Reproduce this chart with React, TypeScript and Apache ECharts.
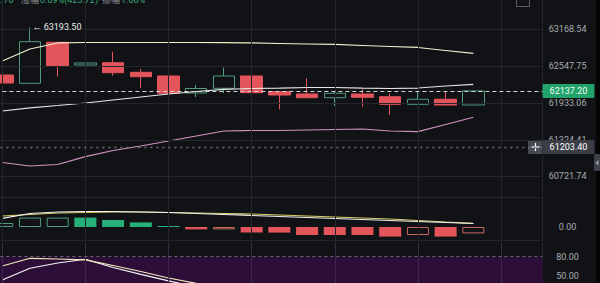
import React, { useEffect, useRef } from 'react';
import * as echarts from 'echarts';

// ---------- data ----------
const categories = ['10:00', '11:00', '12:00', '13:00', '14:00', '15:00', '16:00', '17:00', '18:00', '19:00',
  '20:00', '21:00', '22:00', '23:00', '00:00', '01:00', '02:00', '03:00', '04:00', '05:00'];

const opens = [62402.8, 62264.7, 62947.1, 62569.3, 62607.6, 62447.8, 62386.2, 62103.2, 62181.4, 62386.2,
  62124.9, 62086.6, 62025.0, 62086.6, 62041.6, 61915.1, 61998.4, 61903.5];
const closes = [62269.7, 62957.1, 62557.6, 62602.6, 62441.1, 62374.5, 62098.2, 62178.1, 62386.2, 62108.2,
  62069.9, 62025.0, 62098.2, 62031.6, 61915.1, 61998.4, 61903.5, 62137.2];
const lows = [62053.3, 62264.7, 62374.5, 62374.5, 62391.2, 62181.4, 62025.0, 62036.6, 62103.2, 62103.2,
  61831.9, 62020.0, 61886.8, 61875.2, 61737.0, 61915.1, 61903.5, 61903.5];
const highs = [62436.1, 63193.5, 62947.1, 62747.4, 62790.7, 62502.7, 62386.2, 62236.4, 62527.7, 62386.2,
  62124.9, 62347.9, 62136.5, 62164.8, 62098.2, 62124.9, 62136.5, 62137.2];

const bollUpper = [62636, 62836, 62936, 62944, 62944, 62944, 62944, 62944, 62941, 62936,
  62927, 62919, 62911, 62894, 62877, 62861, 62811, 62764];
const bollMid = [61804, 61854, 61895, 61937, 61987, 62037, 62087, 62128, 62162, 62178,
  62186, 62195, 62195, 62186, 62178, 62186, 62220, 62248];
const bollLower = [60946, 60888, 60913, 61043, 61146, 61221, 61304, 61388, 61471, 61479,
  61479, 61487, 61496, 61504, 61471, 61459, 61579, 61699];

const priceTicks = [63168.54, 62547.75, 61933.06, 61324.41, 60721.74];
const crossPrice = 61203.40;

const macdHist = [20, 47, 47, 47, 35, 23, 5, -12, -12, -28, -28, -40, -40, -40, -48, -40, -48, -32];
const macdHollow = [true, true, true, false, false, false, false, false, true, false,
  false, false, false, false, false, true, false, true];
const macdDif = [43.5, 67.5, 75, 77.5, 77.5, 75, 72.5, 67.5, 62.5, 57.5, 52.5, 47.5, 42.5, 37.5, 32.5, 27.5, 22.5, 17.5];
const macdDea = [55, 62.5, 70, 72.5, 75, 75, 72.5, 70, 67.5, 65, 60, 55, 50, 45, 40, 32.5, 25, 18.5];
const macdTicks = [0];

const rsiA = [65.5, 77.5, 76.4, 74.9, 66.3, 57, 46.9, 38.5, 33, 29, 26, 24, 23, 21, 20, 20, 21, 24];
const rsiB = [43.8, 62, 70.2, 76, 63.2, 52.4, 42.3, 33, 28, 25, 23, 21, 20, 19, 18, 18, 19, 22];
const rsiTicks = [80, 50];

// ---------- styles ----------
const BG = '#111215';
const GRID = '#24262b';
const LABEL = '#a9acb3';
const UP = '#4f9d7c';
const DOWN = '#e4545b';
const FONT = 'Roboto';

// chart div is shifted left by OX px so the first candle can sit at the page's left edge
const OX = 12;
const CW = 600 + OX;

const vIdx = categories.map((_, i) => i).filter((i) => i % 3 === 0 && i < 19);
const vLines = vIdx.map((i) => ({ xAxis: categories[i] }));
const hiIdx = highs.indexOf(Math.max(...highs));
const lastClose = closes[closes.length - 1];

const gridLeft = OX - 11.6;
const gridRight = CW - (542.6 + OX);
const RSI_MIN = 39.1;

const baseMarkLine = {
  silent: true,
  symbol: ['none', 'none'],
  label: { show: false },
  animation: false,
};

function buildOption(): any {
  const axisLabelBase = {
    color: LABEL,
    fontSize: 9,
    fontFamily: FONT,
    align: 'center',
    margin: 25,
  };
  return {
    animation: false,
    backgroundColor: BG,
    grid: [
      { left: gridLeft, right: gridRight, top: 0, height: 197 },
      { left: gridLeft, right: gridRight, top: 197, height: 57 },
      { left: gridLeft, right: gridRight, top: 243.8, height: 39.2 },
    ],
    xAxis: [0, 1, 2].map((g) => ({
      type: 'category',
      data: categories,
      gridIndex: g,
      boundaryGap: true,
      show: false,
    })),
    yAxis: [
      {
        type: 'value', gridIndex: 0, position: 'right', min: 60372.1, max: 63651.2,
        axisLine: { show: true, lineStyle: { color: GRID } },
        axisTick: { show: false }, splitLine: { show: false },
        axisLabel: { ...axisLabelBase, customValues: priceTicks, formatter: (v: number) => v.toFixed(2) },
      },
      {
        type: 'value', gridIndex: 1, position: 'right', min: -135, max: 150,
        axisLine: { show: true, lineStyle: { color: GRID } },
        axisTick: { show: false }, splitLine: { show: false },
        axisLabel: { ...axisLabelBase, customValues: macdTicks, formatter: (v: number) => v.toFixed(2) },
      },
      {
        type: 'value', gridIndex: 2, position: 'right', min: RSI_MIN, max: 100,
        axisLine: { show: true, lineStyle: { color: GRID } },
        axisTick: { show: false }, splitLine: { show: false },
        axisLabel: { ...axisLabelBase, customValues: rsiTicks, formatter: (v: number) => v.toFixed(2) },
      },
    ],
    series: [
      // grid lines main
      {
        type: 'line', xAxisIndex: 0, yAxisIndex: 0, data: [], z: 1, silent: true,
        markLine: {
          ...baseMarkLine,
          lineStyle: { color: GRID, width: 1, type: 'solid' },
          data: [...priceTicks.map((v) => ({ yAxis: v })), ...vLines],
        },
      },
      {
        name: 'K', type: 'candlestick', xAxisIndex: 0, yAxisIndex: 0, z: 3, barWidth: 22,
        data: opens.map((o, i) => [o, closes[i], lows[i], highs[i]]),
        itemStyle: { color: 'rgba(0,0,0,0)', color0: DOWN, borderColor: UP, borderColor0: DOWN, borderWidth: 1 },
        markLine: {
          ...baseMarkLine,
          data: [
            {
              yAxis: lastClose,
              lineStyle: { color: '#cfd8d3', width: 1, type: [4, 3] },
              label: {
                show: true, position: 'end', distance: 0,
                formatter: () => lastClose.toFixed(2),
                color: '#f3fbf7', backgroundColor: '#21a46c', padding: [0, 7], lineHeight: 14,
                fontSize: 9, fontFamily: FONT, borderRadius: 1,
              },
            },
            {
              yAxis: crossPrice,
              lineStyle: { color: '#6c6f76', width: 1.4, type: [2, 4] },
              label: {
                show: true, position: 'end', distance: 0,
                formatter: () => crossPrice.toFixed(2),
                color: '#ffffff', backgroundColor: '#3b3e46', padding: [0, 7], lineHeight: 14,
                fontSize: 9, fontFamily: FONT,
              },
            },
          ],
        },
        markPoint: {
          symbol: 'circle', symbolSize: 1, silent: true, animation: false,
          itemStyle: { color: 'rgba(0,0,0,0)' },
          label: {
            show: true, position: 'right', distance: 2, color: '#ececec', fontSize: 9, fontFamily: FONT,
            formatter: (p: any) => '\u2190 ' + Number(p.value).toFixed(2),
          },
          data: [{ coord: [categories[hiIdx], highs[hiIdx]], value: highs[hiIdx] }],
        },
      },
      {
        type: 'line', xAxisIndex: 0, yAxisIndex: 0, data: bollUpper, z: 4, symbol: 'none', silent: true,
        lineStyle: { color: '#f3efcc', width: 1.2 },
      },
      {
        type: 'line', xAxisIndex: 0, yAxisIndex: 0, data: bollMid, z: 4, symbol: 'none', silent: true,
        lineStyle: { color: '#e6e6e6', width: 1.2 },
      },
      {
        type: 'line', xAxisIndex: 0, yAxisIndex: 0, data: bollLower, z: 4, symbol: 'none', silent: true,
        lineStyle: { color: '#d291c0', width: 1.2 },
      },
      // MACD grid lines
      {
        type: 'line', xAxisIndex: 1, yAxisIndex: 1, data: [], z: 1, silent: true,
        markLine: {
          ...baseMarkLine,
          lineStyle: { color: GRID, width: 1, type: 'solid' },
          data: [{ yAxis: -65 }, { yAxis: 150 }, ...vLines],
        },
      },
      {
        type: 'bar', xAxisIndex: 1, yAxisIndex: 1, z: 3, barWidth: 22, silent: true,
        data: macdHist.map((v, i) => ({
          value: v,
          itemStyle: macdHollow[i]
            ? { color: BG, borderColor: v >= 0 ? UP : '#c56b60', borderWidth: 1 }
            : { color: v >= 0 ? '#25b07a' : DOWN },
        })),
      },
      {
        type: 'line', xAxisIndex: 1, yAxisIndex: 1, data: macdDea, z: 4, symbol: 'none', silent: true,
        lineStyle: { color: '#d9cb62', width: 1.2 },
      },
      {
        type: 'line', xAxisIndex: 1, yAxisIndex: 1, data: macdDif, z: 4, symbol: 'none', silent: true,
        lineStyle: { color: '#f0f0f0', width: 1.2 },
      },
      // RSI panel
      {
        type: 'line', xAxisIndex: 2, yAxisIndex: 2, data: [], z: 1, silent: true,
        markArea: {
          silent: true, animation: false,
          itemStyle: { color: '#2d0e39' },
          data: [[{ yAxis: 80 }, { yAxis: RSI_MIN }]],
        },
      },
      {
        type: 'line', xAxisIndex: 2, yAxisIndex: 2, data: [], z: 2, silent: true,
        markLine: {
          ...baseMarkLine,
          data: [
            ...vLines.map((d) => ({ ...d, lineStyle: { color: '#3a2a44', width: 1, type: 'solid' } })),
            { yAxis: 80, lineStyle: { color: '#6a6470', width: 1.2, type: [3, 3] } },
          ],
        },
      },
      {
        type: 'line', xAxisIndex: 2, yAxisIndex: 2, data: rsiB, z: 4, symbol: 'none', silent: true,
        lineStyle: { color: '#f4f4f4', width: 1.2 },
      },
      {
        type: 'line', xAxisIndex: 2, yAxisIndex: 2, data: rsiA, z: 4, symbol: 'none', silent: true,
        lineStyle: { color: '#f1eab8', width: 1.2 },
      },
    ],
    graphic: [
      // header (mostly cut off)
      { type: 'text', x: OX - 4, y: 4, style: { text: '2.76', fill: '#3aa97a', font: `9px ${FONT}`, verticalAlign: 'bottom' } },
      { type: 'text', x: OX + 21, y: 4, style: { text: '涨幅', fill: '#8a8d94', font: `9px "Noto Sans CJK SC"`, verticalAlign: 'bottom' } },
      { type: 'text', x: OX + 40, y: 4, style: { text: '0.69%(425.72)', fill: '#3aa97a', font: `9px ${FONT}`, verticalAlign: 'bottom' } },
      { type: 'text', x: OX + 102, y: 4, style: { text: '振幅', fill: '#8a8d94', font: `9px "Noto Sans CJK SC"`, verticalAlign: 'bottom' } },
      { type: 'text', x: OX + 121, y: 4, style: { text: '1.66%', fill: '#3aa97a', font: `9px ${FONT}`, verticalAlign: 'bottom' } },
      // top-right icon
      { type: 'rect', shape: { x: OX + 516.5, y: -6.5, width: 13, height: 13 }, style: { fill: 'none', stroke: '#5b5e6a', lineWidth: 1 } },
      // plus box next to cross price label
      { type: 'rect', shape: { x: OX + 528, y: 140, width: 15, height: 14 }, style: { fill: '#474a52' } },
      { type: 'line', shape: { x1: OX + 531.5, y1: 147, x2: OX + 539.5, y2: 147 }, style: { stroke: '#ffffff', lineWidth: 1.2 } },
      { type: 'line', shape: { x1: OX + 535.5, y1: 143, x2: OX + 535.5, y2: 151 }, style: { stroke: '#ffffff', lineWidth: 1.2 } },
      // right edge strip and handle
      { type: 'rect', shape: { x: OX + 596, y: 0, width: 4, height: 283 }, style: { fill: '#050506' } },
      { type: 'rect', shape: { x: OX + 594, y: 154, width: 6, height: 17, r: 1 }, style: { fill: '#3e4149' } },
      { type: 'polygon', shape: { points: [[OX + 598.5, 160], [OX + 598.5, 165.5], [OX + 595.5, 162.7]] }, style: { fill: '#a3a6ad' } },
    ],
  };
}

export default function App() {
  const ref = useRef<HTMLDivElement>(null);
  useEffect(() => {
    if (!ref.current) return;
    const chart = echarts.init(ref.current, null, { renderer: 'svg' });
    chart.setOption(buildOption());
    return () => chart.dispose();
  }, []);
  return <div ref={ref} style={{ position: 'fixed', left: -OX, top: 0, width: CW, height: 283 }} />;
}
